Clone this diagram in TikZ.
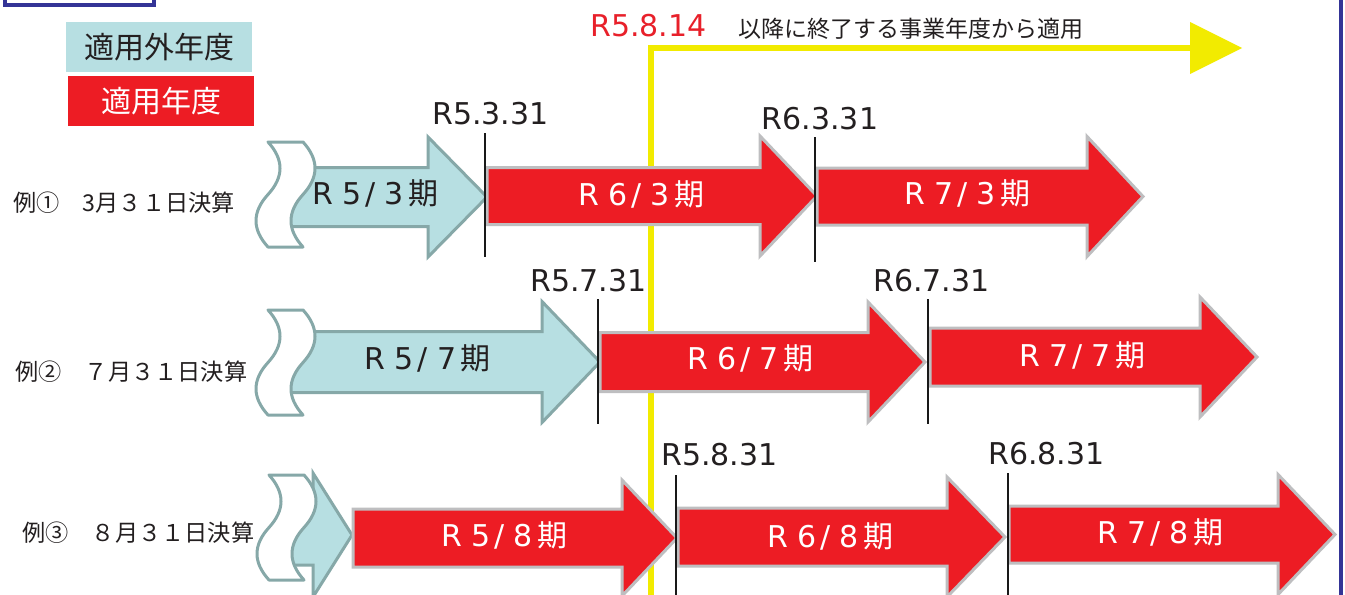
\documentclass[tikz,border=0pt]{standalone}
\usepackage{fontspec}
\setmainfont{DejaVu Sans}
\newfontfamily\jp{Noto Sans CJK JP}
\definecolor{pale}{RGB}{183,223,226}
\definecolor{paleline}{RGB}{134,168,168}
\definecolor{redfill}{RGB}{237,28,36}
\definecolor{redline}{RGB}{190,190,192}
\definecolor{ylw}{RGB}{242,235,0}
\definecolor{framec}{RGB}{52,52,150}
\definecolor{ink}{RGB}{35,31,32}
\definecolor{redtext}{RGB}{232,32,42}
\tikzset{
  paleshape/.style={fill=pale,draw=paleline,line width=2.25pt,line join=miter},
  redshape/.style={fill=redfill,draw=redline,line width=2.25pt,line join=miter},
  stripshape/.style={fill=white,draw=paleline,line width=2.25pt,line join=round},
  datelbl/.style={font=\fontsize{22.5}{24}\selectfont,text=ink,inner sep=0pt},
  darklbl/.style={font=\fontsize{22.5}{24}\selectfont,text=ink,inner sep=0pt},
  whitelbl/.style={font=\fontsize{22.5}{24}\selectfont,text=white,inner sep=0pt},
  rowlbl/.style={font=\jp\fontsize{17.4}{19}\selectfont,text=ink,inner sep=0pt,anchor=west},
  tickline/.style={draw=black!90,line width=1.3pt},
  legendbox/.style={minimum width=139.5pt,minimum height=37.5pt,inner sep=0pt,font=\jp\fontsize{22.5}{24}\selectfont},
  framestyle/.style={draw=framec,line width=2.6pt},
}
% style, xl, xb, xt, yc, body half, head half
\newcommand\harrow[7]{%
  \path[#1] ({#2},{#5-#6}) -- ({#3},{#5-#6}) -- ({#3},{#5-#7}) -- ({#4},{#5})
    -- ({#3},{#5+#7}) -- ({#3},{#5+#6}) -- ({#2},{#5+#6}) -- cycle;}
% x0, y0
\newcommand\wavestrip[2]{%
  \path[stripshape] ({#1},{#2}) .. controls ({#1+16},{#2+17.5}) and ({#1+16},{#2+35}) .. ({#1},{#2+52.5})
    .. controls ({#1-16},{#2+70}) and ({#1-16},{#2+87.5}) .. ({#1},{#2+105})
    -- ({#1+35},{#2+105})
    .. controls ({#1+19},{#2+87.5}) and ({#1+19},{#2+70}) .. ({#1+35},{#2+52.5})
    .. controls ({#1+51},{#2+35}) and ({#1+51},{#2+17.5}) .. ({#1+35},{#2}) -- cycle;}
\newcommand\pl[2]{R #1\kern3pt/\kern7pt#2\kern3pt{\jp 期}}
\begin{document}
\begin{tikzpicture}[x=0.75pt,y=-0.75pt]
\useasboundingbox (0,0) rectangle (1345,594);
\clip (0,0) rectangle (1345,594);
\fill[white] (0,0) rectangle (1345,594);

% frames
\coordinate (fa) at (5,-10);
\coordinate (fb) at (154,5);
\draw[framestyle] (fa) rectangle (fb);
\coordinate (ra) at (1341,-5);
\coordinate (rb) at (1341,600);
\draw[framestyle] (ra) -- (rb);

% legend
\node[legendbox,fill=pale,text=ink] (leg1) at (159,47) {適用外年度};
\node[legendbox,fill=redfill,text=white] (leg2) at (161,101) {適用年度};

% yellow application arrow
\coordinate (ybot) at (651,600);
\coordinate (ycorner) at (651,48);
\coordinate (yhead) at (1192,48);
\coordinate (ytip) at (1242,48);
\draw[ylw,line width=4.5pt,line join=miter] (ybot) -- (ycorner) -- (yhead);
\fill[ylw] (1190,22) -- (ytip) -- (1190,74) -- cycle;
\node[font=\fontsize{22.5}{24}\selectfont,text=redtext,inner sep=0pt] (r5814) at (648.5,26) {R5.8.14};
\node[font=\jp\fontsize{17.25}{19}\selectfont,text=ink,inner sep=0pt] (cap) at (911,29) {以降に終了する事業年度から適用};

% row labels
\node[rowlbl] (row1) at (13,203) {例①　3月３１日決算};
\node[rowlbl] (row2) at (15,372) {例②　７月３１日決算};
\node[rowlbl] (row3) at (22,533) {例③　８月３１日決算};

% pale (non-applicable) arrows
\harrow{paleshape}{290}{428}{487}{197}{29.5}{60}
\harrow{paleshape}{290}{542}{600}{362}{30.5}{60.5}
\harrow{paleshape}{290}{313}{352}{535}{30}{62}
\wavestrip{268}{142}
\wavestrip{268}{310}
\wavestrip{269}{475}

% red (applicable) arrows
\harrow{redshape}{487}{760}{817}{196}{28.5}{60}
\harrow{redshape}{817}{1087}{1143}{196.5}{28.5}{60}
\harrow{redshape}{600}{868}{925}{362}{29.5}{60}
\harrow{redshape}{930}{1200}{1257}{357}{29}{60}
\harrow{redshape}{353}{622}{677}{538}{29}{58}
\harrow{redshape}{678}{947}{1005}{537}{29}{60}
\harrow{redshape}{1009}{1278}{1335}{534.5}{28.5}{60}

% period labels
\node[darklbl] (p53) at (375,193) {\pl{5}{3}};
\node[whitelbl] (p63) at (641,194) {\pl{6}{3}};
\node[whitelbl] (p73) at (967,193) {\pl{7}{3}};
\node[darklbl] (p57) at (427.5,358) {\pl{5}{7}};
\node[whitelbl] (p67) at (750,358) {\pl{6}{7}};
\node[whitelbl] (p77) at (1082,355) {\pl{7}{7}};
\node[whitelbl] (p58) at (504,535) {\pl{5}{8}};
\node[whitelbl] (p68) at (830,536) {\pl{6}{8}};
\node[whitelbl] (p78) at (1160,532) {\pl{7}{8}};

% ticks
\coordinate (t1a) at (485,133); \coordinate (t1b) at (485,257);
\coordinate (t2a) at (815,137); \coordinate (t2b) at (815,262);
\coordinate (t3a) at (598,299); \coordinate (t3b) at (598,424);
\coordinate (t4a) at (928,299); \coordinate (t4b) at (928,424);
\coordinate (t5a) at (676,475); \coordinate (t5b) at (676,600);
\coordinate (t6a) at (1008,473); \coordinate (t6b) at (1008,600);
\foreach \a/\b in {t1a/t1b,t2a/t2b,t3a/t3b,t4a/t4b,t5a/t5b,t6a/t6b}
  \draw[tickline] (\a) -- (\b);

% date labels
\node[datelbl] (d1) at (490.5,114) {R5.3.31};
\node[datelbl] (d2) at (820,118.5) {R6.3.31};
\node[datelbl] (d3) at (588.5,281) {R5.7.31};
\node[datelbl] (d4) at (931.5,281) {R6.7.31};
\node[datelbl] (d5) at (719.5,455) {R5.8.31};
\node[datelbl] (d6) at (1046.5,454) {R6.8.31};
\end{tikzpicture}
\end{document}
